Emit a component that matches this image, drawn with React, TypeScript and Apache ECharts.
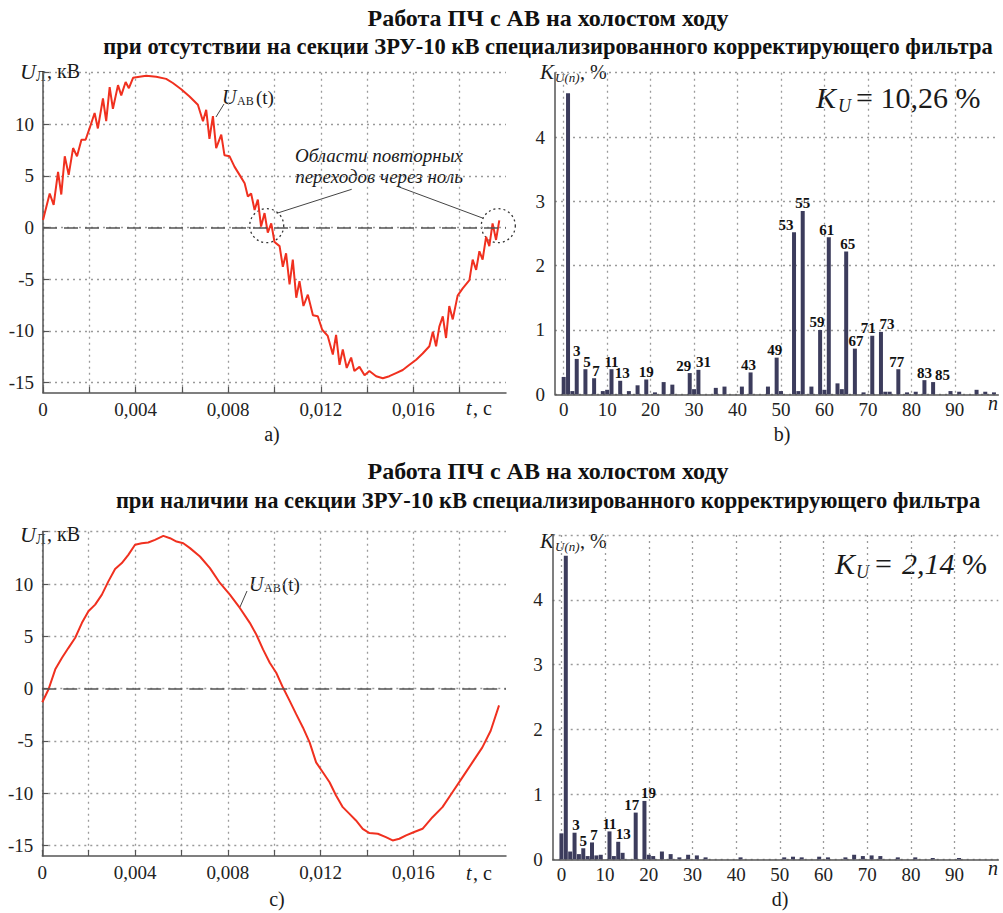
import React, { useEffect, useRef } from 'react';
import * as echarts from 'echarts';

// ---------- DATA ----------
const titleTop1 = 'Работа ПЧ с АВ на холостом ходу';
const titleTop2 = 'при отсутствии на секции ЗРУ-10 кВ специализированного корректирующего фильтра';
const titleBot1 = 'Работа ПЧ с АВ на холостом ходу';
const titleBot2 = 'при наличии на секции ЗРУ-10 кВ специализированного корректирующего фильтра';

// (a) voltage without filter, t in s, U in kV
const timeA = [0, 0.00029, 0.00046, 0.00065, 0.00079, 0.00094, 0.00111, 0.0013, 0.00147, 0.00166, 0.00184, 0.00201, 0.00223, 0.00237, 0.00259, 0.00273, 0.00288, 0.00302, 0.00324, 0.00338, 0.00357, 0.00371, 0.00389, 0.00417, 0.00446, 0.00489, 0.00532, 0.00561, 0.00597, 0.00633, 0.00669, 0.00691, 0.00705, 0.00719, 0.00734, 0.00748, 0.0077, 0.00784, 0.00806, 0.00827, 0.00849, 0.00871, 0.00885, 0.00899, 0.00914, 0.00928, 0.00942, 0.00957, 0.00971, 0.00986, 0.01, 0.01022, 0.01036, 0.0105, 0.01065, 0.01079, 0.01094, 0.01108, 0.01125, 0.01144, 0.01166, 0.01187, 0.01206, 0.0123, 0.01252, 0.01266, 0.01281, 0.01295, 0.01312, 0.01331, 0.01345, 0.01367, 0.01389, 0.0141, 0.01439, 0.01468, 0.01496, 0.01525, 0.01554, 0.01583, 0.01612, 0.0164, 0.01669, 0.01684, 0.01698, 0.01712, 0.01727, 0.01741, 0.01755, 0.0177, 0.01791, 0.01813, 0.01842, 0.01856, 0.01871, 0.01885, 0.01899, 0.01914, 0.01928, 0.01942, 0.01957, 0.01971];
const voltA = [0.74, 3.3, 2.2, 5.4, 3.2, 6.9, 5.1, 7.7, 6.9, 8.5, 8.5, 9.6, 11.1, 9.6, 12.5, 10.3, 13.6, 11.5, 13.8, 12.8, 14.1, 13.5, 14.5, 14.6, 14.7, 14.6, 14.4, 14.0, 13.4, 12.7, 11.9, 10.3, 11.4, 8.6, 10.8, 7.7, 9.0, 7.0, 6.9, 5.9, 5.1, 4.3, 3.0, 3.3, 1.7, 2.7, 0.1, 1.4, -0.5, 0.4, -1.4, -1.8, -3.8, -2.5, -5.5, -3.1, -6.8, -5.2, -7.6, -6.5, -8.5, -8.6, -9.9, -10.5, -12.3, -10.4, -13.3, -11.8, -13.6, -12.6, -13.9, -13.5, -14.3, -13.9, -14.4, -14.6, -14.4, -14.1, -13.8, -13.3, -12.8, -12.2, -11.5, -10.1, -11.5, -9.6, -8.6, -10.7, -7.6, -8.9, -6.6, -5.9, -5.1, -3.1, -4.1, -2.3, -3.1, -0.9, -1.8, 0.4, -1.2, 0.7];

// (c) voltage with filter
const timeC = [0, 0.00027, 0.00056, 0.00085, 0.00113, 0.00142, 0.00171, 0.00199, 0.00228, 0.00257, 0.00285, 0.00314, 0.00343, 0.00371, 0.004, 0.00429, 0.00457, 0.00486, 0.00522, 0.00551, 0.00579, 0.00608, 0.00637, 0.0068, 0.00723, 0.00766, 0.00809, 0.00852, 0.00895, 0.00923, 0.00952, 0.00981, 0.01009, 0.01038, 0.01067, 0.01095, 0.01124, 0.01153, 0.01181, 0.0121, 0.01239, 0.01267, 0.01296, 0.01325, 0.01353, 0.01382, 0.01411, 0.01447, 0.01482, 0.01511, 0.0154, 0.01569, 0.01604, 0.0164, 0.01683, 0.01726, 0.01769, 0.01812, 0.01855, 0.01898, 0.01934, 0.0197];
const voltC = [-1.3, -0.06, 1.84, 2.95, 3.9, 4.86, 6.29, 7.4, 8.03, 8.98, 10.25, 11.43, 12.0, 12.79, 13.75, 13.9, 13.97, 14.22, 14.6, 14.38, 14.06, 13.9, 13.43, 12.63, 11.52, 10.1, 8.98, 7.71, 6.29, 5.17, 3.75, 2.48, 1.52, 0.1, -1.17, -2.44, -3.71, -5.14, -7.05, -8.0, -8.95, -10.22, -11.33, -11.97, -12.6, -13.4, -13.81, -13.87, -14.19, -14.51, -14.35, -14.03, -13.71, -13.4, -12.29, -11.33, -9.9, -8.48, -7.05, -5.62, -4.03, -1.6];

// (b) harmonic spectrum without filter: harmonic number n, K_U(n) in %
const harmB = [0, 1, 2, 3, 5, 7, 9, 10, 11, 13, 15, 17, 19, 21, 23, 25, 29, 30, 31, 35, 37, 41, 43, 47, 49, 50, 53, 54, 55, 57, 59, 60, 61, 63, 64, 65, 67, 69, 71, 73, 74, 75, 77, 79, 81, 83, 85, 89, 91, 95, 97, 99];
const kuB = [0.27, 4.68, 0.05, 0.55, 0.39, 0.25, 0.05, 0.07, 0.39, 0.21, 0.05, 0.14, 0.23, 0.03, 0.19, 0.15, 0.33, 0.08, 0.38, 0.1, 0.12, 0.12, 0.34, 0.12, 0.57, 0.05, 2.52, 0.05, 2.85, 0.12, 1.0, 0.07, 2.44, 0.17, 0.08, 2.22, 0.71, 0.03, 0.91, 0.97, 0.04, 0.04, 0.39, 0.03, 0.04, 0.22, 0.19, 0.05, 0.04, 0.07, 0.04, 0.03];
const labeledB = [3, 5, 7, 11, 13, 19, 29, 31, 43, 49, 53, 55, 59, 61, 65, 67, 71, 73, 77, 83, 85];
const labelShiftB = [0, 1.5, 2, 0, 2, 0, -6, 5, -2, -2, -8, 0, -3, -2, 1.5, 1, -4, 6, -1.5, 0, 9.5];

// (d) harmonic spectrum with filter
const harmD = [0, 1, 2, 3, 4, 5, 6, 7, 8, 9, 11, 12, 13, 14, 17, 19, 20, 21, 23, 25, 27, 29, 31, 33, 41, 51, 53, 55, 59, 61, 65, 67, 69, 71, 73, 77, 81, 85, 91];
const kuD = [0.4, 4.68, 0.12, 0.41, 0.08, 0.17, 0.05, 0.26, 0.06, 0.07, 0.43, 0.05, 0.27, 0.1, 0.72, 0.9, 0.07, 0.05, 0.12, 0.08, 0.03, 0.07, 0.06, 0.03, 0.03, 0.03, 0.04, 0.03, 0.04, 0.03, 0.03, 0.07, 0.05, 0.06, 0.05, 0.03, 0.03, 0.02, 0.02];
const labeledD = [3, 5, 7, 11, 13, 17, 19];
const labelShiftD = [1.5, 0, 2, 0, 5, -4, 4];

// ticks
const voltTicks = [-15, -10, -5, 0, 5, 10, 15];
const voltLabels = [-15, -10, -5, 0, 5, 10];
const timeTicks = [0, 0.002, 0.004, 0.006, 0.008, 0.01, 0.012, 0.014, 0.016, 0.018];
const timeLabels = [0, 0.004, 0.008, 0.012, 0.016];
const kuTicks = [0, 1, 2, 3, 4, 5];
const kuLabels = [0, 1, 2, 3, 4];
const nTicks = [0, 10, 20, 30, 40, 50, 60, 70, 80, 90];

// ---------- STYLE ----------
const SERIF = 'Liberation Serif, Times New Roman, serif';
const RED = '#f0301f';
const BAR = '#3c3c5c';
const AXIS = '#555';
const GRIDC = '#9a9a9a';

function txt(x: number, y: number, text: string, size: number, extra: any = {}) {
  return {
    type: 'text', x, y, silent: true,
    style: {
      text, fontSize: size, fontFamily: SERIF, fill: '#1a1a1a',
      align: 'left', verticalAlign: 'middle', textAlign: 'left', textVerticalAlign: 'middle',
      ...extra,
    },
  };
}

const fmtTime = (v: number) => (Math.abs(v) < 1e-9 ? '0' : v.toFixed(3).replace('.', ','));
const labelFont = { fontSize: 19, fontFamily: SERIF, color: '#222' };

function timeAxis(gridIndex: number) {
  return {
    gridIndex, type: 'value', min: 0, max: 0.02,
    axisLine: { show: true, onZero: false, lineStyle: { color: AXIS, width: 1.5 } },
    axisTick: { show: true, inside: true, length: 6, customValues: timeTicks, lineStyle: { color: AXIS, width: 1.2 } },
    splitLine: { show: true, lineStyle: { color: GRIDC, type: [2, 4], width: 1.3 } },
    axisLabel: { customValues: timeLabels, formatter: fmtTime, margin: 7, ...labelFont },
  };
}
function voltAxis(gridIndex: number) {
  return {
    gridIndex, type: 'value', min: -16, max: 15,
    axisLine: { show: true, onZero: false, lineStyle: { color: AXIS, width: 1.5 } },
    axisTick: { show: true, inside: true, length: 6, customValues: voltTicks, lineStyle: { color: AXIS, width: 1.2 } },
    splitLine: { show: true, lineStyle: { color: GRIDC, type: [2, 4], width: 1.3 } },
    axisLabel: { customValues: voltLabels, margin: 9, ...labelFont },
  };
}
function nAxis(gridIndex: number) {
  return {
    gridIndex, type: 'value', min: -2, max: 100,
    axisLine: { show: true, onZero: false, lineStyle: { color: AXIS, width: 1.5 } },
    axisTick: { show: false, customValues: nTicks },
    splitLine: { show: true, lineStyle: { color: GRIDC, type: [2, 4], width: 1.3 } },
    axisLabel: { customValues: nTicks, margin: 6, ...labelFont },
  };
}
function kuAxis(gridIndex: number) {
  return {
    gridIndex, type: 'value', min: 0, max: 5,
    axisLine: { show: true, onZero: false, lineStyle: { color: AXIS, width: 1.5 } },
    axisTick: { show: false, customValues: kuTicks },
    splitLine: { show: true, lineStyle: { color: GRIDC, type: [2, 4], width: 1.3 } },
    axisLabel: { customValues: kuLabels, margin: 10, ...labelFont },
  };
}

const zeroLine = {
  silent: true, symbol: ['none', 'none'], label: { show: false },
  lineStyle: { color: '#555', type: [14, 7], width: 1.5 },
  data: [{ yAxis: 0 }],
};

function barData(ns: number[], vs: number[], labeled: number[], shifts: number[]) {
  return ns.map((n, i) => {
    const k = labeled.indexOf(n);
    return { value: [n, vs[i]], label: { show: k >= 0, offset: [k >= 0 ? shifts[k] : 0, 0] } };
  });
}

const barLabel = {
  show: false, position: 'top', distance: 0,
  formatter: (p: any) => String(p.value[0]),
  fontSize: 15, fontWeight: 'bold', fontFamily: SERIF, color: '#111',
};

export default function App() {
  const ref = useRef<HTMLDivElement>(null);
  useEffect(() => {
    if (!ref.current) return;
    const chart = echarts.init(ref.current, null, { renderer: 'svg' });
    const bold = { fontWeight: 'bold', align: 'center', textAlign: 'center', fill: '#111' };
    const option: any = {
      animation: false,
      backgroundColor: '#fff',
      textStyle: { fontFamily: SERIF },
      grid: [
        { left: 43, top: 72.7, width: 463, height: 320 },
        { left: 555, top: 72.7, width: 443.3, height: 321.6 },
        { left: 42.3, top: 531.7, width: 463.7, height: 324.3 },
        { left: 552.7, top: 535, width: 445.6, height: 324.3 },
      ],
      xAxis: [timeAxis(0), nAxis(1), timeAxis(2), nAxis(3)],
      yAxis: [voltAxis(0), kuAxis(1), voltAxis(2), kuAxis(3)],
      series: [
        {
          type: 'line', xAxisIndex: 0, yAxisIndex: 0, showSymbol: false, symbol: 'none',
          data: timeA.map((t, i) => [t, voltA[i]]),
          lineStyle: { color: RED, width: 2 }, itemStyle: { color: RED },
          markLine: zeroLine, z: 3,
        },
        {
          type: 'bar', xAxisIndex: 1, yAxisIndex: 1, barWidth: 4,
          data: barData(harmB, kuB, labeledB, labelShiftB),
          itemStyle: { color: BAR }, label: barLabel,
        },
        {
          type: 'line', xAxisIndex: 2, yAxisIndex: 2, showSymbol: false, symbol: 'none',
          data: timeC.map((t, i) => [t, voltC[i]]),
          lineStyle: { color: RED, width: 2 }, itemStyle: { color: RED },
          markLine: zeroLine, z: 3,
        },
        {
          type: 'bar', xAxisIndex: 3, yAxisIndex: 3, barWidth: 4,
          data: barData(harmD, kuD, labeledD, labelShiftD),
          itemStyle: { color: BAR }, label: barLabel,
        },
      ],
      graphic: [
        // titles
        txt(548, 18, titleTop1, 24, bold),
        txt(548, 46, titleTop2, 22.5, bold),
        txt(548, 471, titleBot1, 24, bold),
        txt(548, 500, titleBot2, 22.5, bold),
        // axis names (a)/(c)
        txt(20, 71, 'U', 22, { fontStyle: 'italic' }),
        txt(36, 76, 'Л', 14),
        txt(47, 71, ', кВ', 20),
        txt(20, 534, 'U', 22, { fontStyle: 'italic' }),
        txt(36, 539, 'Л', 14),
        txt(47, 534, ', кВ', 20),
        // axis names (b)/(d)
        txt(540, 72, 'K', 21, { fontStyle: 'italic' }),
        txt(555, 77, 'U(n)', 13, { fontStyle: 'italic' }),
        txt(580, 72, ', %', 20),
        txt(540, 541, 'K', 21, { fontStyle: 'italic' }),
        txt(555, 546, 'U(n)', 13, { fontStyle: 'italic' }),
        txt(580, 541, ', %', 20),
        // t, c
        txt(466, 408, 't', 20, { fontStyle: 'italic' }),
        txt(473, 408, ', с', 20),
        txt(466, 873, 't', 20, { fontStyle: 'italic' }),
        txt(473, 873, ', с', 20),
        // n
        txt(988, 403, 'n', 20, { fontStyle: 'italic' }),
        txt(988, 868, 'n', 20, { fontStyle: 'italic' }),
        // panel labels
        txt(272, 434, 'a)', 20, { align: 'center', textAlign: 'center' }),
        txt(782, 434, 'b)', 20, { align: 'center', textAlign: 'center' }),
        txt(277, 899, 'c)', 20, { align: 'center', textAlign: 'center' }),
        txt(780, 899, 'd)', 20, { align: 'center', textAlign: 'center' }),
        // K_U values
        txt(816, 97, 'K', 30, { fontStyle: 'italic' }),
        txt(838, 106, 'U', 18, { fontStyle: 'italic' }),
        txt(856, 97, '= 10,26 %', 30),
        txt(835, 563, 'K', 30, { fontStyle: 'italic' }),
        txt(856, 572, 'U', 18, { fontStyle: 'italic' }),
        txt(875, 563, '=', 30),
        txt(902, 563, '2,14', 30, { fontStyle: 'italic' }),
        txt(962, 563, '%', 30),
        // U_AB(t) annotations
        txt(222, 97, 'U', 20, { fontStyle: 'italic' }),
        txt(237, 101, 'АВ', 12),
        txt(256, 97, '(t)', 19),
        { type: 'line', silent: true, shape: { x1: 224, y1: 104, x2: 216, y2: 117 }, style: { stroke: '#444', lineWidth: 1 } },
        txt(249, 584, 'U', 20, { fontStyle: 'italic' }),
        txt(264, 588, 'АВ', 12),
        txt(282, 584, '(t)', 19),
        { type: 'line', silent: true, shape: { x1: 247, y1: 591, x2: 240, y2: 607 }, style: { stroke: '#444', lineWidth: 1 } },
        // zero crossing regions
        txt(379, 155, 'Области повторных', 19, { fontStyle: 'italic', align: 'center', textAlign: 'center' }),
        txt(379, 176, 'переходов через ноль', 19, { fontStyle: 'italic', align: 'center', textAlign: 'center' }),
        { type: 'circle', silent: true, shape: { cx: 266.7, cy: 225.7, r: 17 }, style: { fill: 'none', stroke: '#333', lineWidth: 1.3, lineDash: [2, 3] } },
        { type: 'circle', silent: true, shape: { cx: 498.3, cy: 225.7, r: 17 }, style: { fill: 'none', stroke: '#333', lineWidth: 1.3, lineDash: [2, 3] } },
        { type: 'line', silent: true, shape: { x1: 276.7, y1: 213.3, x2: 351.7, y2: 189.3 }, style: { stroke: '#444', lineWidth: 1 } },
        { type: 'line', silent: true, shape: { x1: 398.3, y1: 186.7, x2: 483.3, y2: 218.3 }, style: { stroke: '#444', lineWidth: 1 } },
      ],
    };
    chart.setOption(option);
    return () => chart.dispose();
  }, []);
  return <div ref={ref} style={{ position: 'fixed', left: 0, top: 0, width: 1003, height: 913, background: '#fff' }} />;
}
